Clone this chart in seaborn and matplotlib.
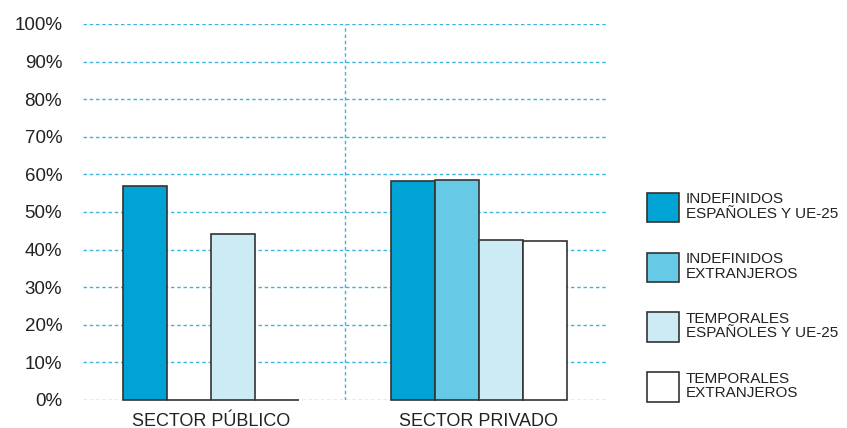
import pandas as pd
import matplotlib.pyplot as plt
from matplotlib.patches import Patch
import seaborn as sns

# values (percent)
sectores = ["SECTOR PÚBLICO", "SECTOR PRIVADO"]
grupos = ["INDEFINIDOS\nESPAÑOLES Y UE-25", "INDEFINIDOS\nEXTRANJEROS",
          "TEMPORALES\nESPAÑOLES Y UE-25", "TEMPORALES\nEXTRANJEROS"]
indef_esp = [57.0, 58.2]
indef_ext = [0.0, 58.5]
temp_esp = [44.1, 42.6]
temp_ext = [0.0, 42.4]
colores = ["#00a3d3", "#66c9e6", "#cdebf5", "#ffffff"]

rows = []
for g, vals in zip(grupos, [indef_esp, indef_ext, temp_esp, temp_ext]):
    for s, v in zip(sectores, vals):
        rows.append({"sector": s, "grupo": g, "valor": v})
df = pd.DataFrame(rows)

sns.set_style("white")
plt.rcParams['font.family'] = ['Liberation Sans', 'DejaVu Sans']

fig = plt.figure(figsize=(8.47, 4.28), dpi=100)
ax = fig.add_axes([83 / 847, 1 - 400 / 428, 524 / 847, 376 / 428])

# grid first so bars sit on top
grid_col = "#3fb3de"
for y in range(0, 101, 10):
    ax.axhline(y, color=grid_col, lw=1.0, ls=(0, (2.5, 2)), zorder=0)
ax.axvline(0.5, color=grid_col, lw=1.0, ls=(0, (2.5, 2)), zorder=0)

sns.barplot(data=df, x="sector", y="valor", hue="grupo", order=sectores,
            hue_order=grupos, palette=colores, saturation=1, width=0.66,
            gap=0, edgecolor="#333333", linewidth=1.2, ax=ax, zorder=2,
            legend=False)
for p in ax.patches:
    p.set_clip_on(False)

ax.set_xlim(-0.478, 1.478)
ax.set_ylim(0, 100)
ax.set_yticks(range(0, 101, 10))
ax.set_yticklabels([f"{v}%" for v in range(0, 101, 10)])
ax.set_xlabel("")
ax.set_ylabel("")
ax.tick_params(axis="y", length=0, pad=15, labelsize=13.5, labelcolor="#222222")
ax.tick_params(axis="x", length=0, pad=9, labelsize=13, labelcolor="#222222")
sns.despine(ax=ax, left=True, bottom=True)

handles = [Patch(facecolor=c, edgecolor="#333333", linewidth=1.2) for c in colores]
leg = fig.legend(handles, grupos, loc="center left",
                 bbox_to_anchor=(647 / 847, 1 - 297 / 428),
                 frameon=False, fontsize=11, handlelength=2.1,
                 handleheight=2.6, handletextpad=0.45, labelspacing=1.95,
                 borderpad=0, borderaxespad=0)
for t in leg.get_texts():
    t.set_linespacing(1.05)
    t.set_color("#222222")

fig.savefig("out.png", dpi=100)
